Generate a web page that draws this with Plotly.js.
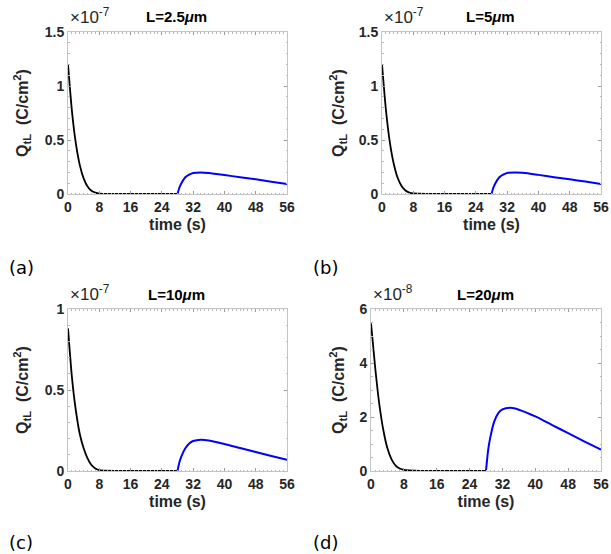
<!DOCTYPE html>
<html>
<head>
<meta charset="utf-8">
<script src="https://cdn.plot.ly/plotly-3.0.1.min.js"></script>
<style>html,body{margin:0;padding:0;background:#fff;}#chart{width:611px;height:554px;}</style>
</head>
<body>
<div id="chart"></div>
<script>
// ---- data (values in units of the panel's exponent) ----
var tDecay = [0, 1, 2, 3, 4, 5, 6, 7, 8, 12, 20, 28];
var tRise  = [28, 28.5, 29, 30, 31, 32, 34, 36, 40, 44, 48, 52, 56];

var decayA = [1.20, 0.77, 0.47, 0.27, 0.145, 0.07, 0.03, 0.012, 0.004, 0.001, 0, 0];
var riseA  = [0, 0.06, 0.10, 0.155, 0.18, 0.195, 0.20, 0.195, 0.176, 0.155, 0.136, 0.114, 0.093];

var decayB = [1.20, 0.78, 0.48, 0.28, 0.15, 0.075, 0.033, 0.013, 0.005, 0.001, 0, 0];
var riseB  = [0, 0.06, 0.10, 0.155, 0.18, 0.195, 0.20, 0.196, 0.177, 0.156, 0.136, 0.115, 0.093];

var decayC = [0.88, 0.58, 0.375, 0.23, 0.14, 0.078, 0.037, 0.016, 0.006, 0.001, 0, 0];
var riseC  = [0, 0.055, 0.09, 0.14, 0.17, 0.185, 0.193, 0.188, 0.167, 0.142, 0.117, 0.093, 0.07];

var decayD = [5.47, 3.86, 2.5, 1.52, 0.84, 0.43, 0.2, 0.09, 0.04, 0.005, 0, 0];
var riseD  = [0, 0.75, 1.21, 1.83, 2.14, 2.28, 2.34, 2.27, 2.02, 1.71, 1.40, 1.09, 0.79];

var panelTitles = ['L=2.5', 'L=5', 'L=10', 'L=20'];
var exponents = ['-7', '-7', '-7', '-8'];
var panelLabels = ['(a)', '(b)', '(c)', '(d)'];
var xTicks = [0, 8, 16, 24, 32, 40, 48, 56];
var yRanges = [[0, 1.5], [0, 1.5], [0, 1], [0, 6]];
var yDticks = [0.5, 0.5, 0.5, 2];
var yMinor = [0.1, 0.1, 0.1, 0.5];

// ---- layout geometry (pixels) ----
var W = 611, H = 554;
var boxes = [
  {l: 68, r: 287, t: 32, b: 194},
  {l: 382, r: 601, t: 32, b: 194},
  {l: 68, r: 287, t: 309, b: 471},
  {l: 371, r: 601, t: 309, b: 471}
];
var yTitleX = [22, 338, 22, 338];
var labelX = [7, 311, 7, 311];
var labelY = [267, 267, 542, 542];

var decays = [decayA, decayB, decayC, decayD];
var rises = [riseA, riseB, riseC, riseD];

var traces = [];
var FONT = 'Liberation Sans, Arial, sans-serif';
var layout = {
  width: W, height: H,
  margin: {l: 0, r: 0, t: 0, b: 0},
  paper_bgcolor: '#fff', plot_bgcolor: '#fff',
  showlegend: false,
  font: {family: FONT, color: '#262626'},
  annotations: []
};

function px(x) { return x / W; }
function py(y) { return 1 - y / H; }

for (var i = 0; i < 4; i++) {
  var n = i + 1;
  var xa = 'x' + (n === 1 ? '' : n), ya = 'y' + (n === 1 ? '' : n);
  var bx = boxes[i];
  traces.push({x: tDecay, y: decays[i], xaxis: xa, yaxis: ya, mode: 'lines',
    line: {color: '#000000', width: 1.8, shape: 'spline', smoothing: 0.6}, hoverinfo: 'skip'});
  traces.push({x: tRise, y: rises[i], xaxis: xa, yaxis: ya, mode: 'lines',
    line: {color: '#0000ff', width: 2, shape: 'spline', smoothing: 0.6}, hoverinfo: 'skip'});

  var common = {
    showline: true, linecolor: '#c4c4c4', linewidth: 1, mirror: 'allticks',
    ticks: 'inside', ticklen: 3, tickcolor: '#9a9a9a', tickwidth: 1,
    showgrid: false, zeroline: false,
    tickfont: {family: FONT, size: 14, color: '#262626', weight: 'bold'}
  };
  var xax = Object.assign({}, common, {
    domain: [px(bx.l), px(bx.r)],
    range: [0, 56], tickmode: 'array', tickvals: xTicks, ticktext: xTicks.map(String),
    minor: {ticks: 'inside', ticklen: 1.5, tickcolor: '#b8b8b8', dtick: 1, showgrid: false},
    title: {text: '<b>time (s)</b>', standoff: 5, font: {size: 16, color: '#262626', family: FONT}}
  });
  xax.anchor = ya;
  var yax = Object.assign({}, common, {
    domain: [py(bx.b), py(bx.t)], anchor: xa,
    range: yRanges[i], dtick: yDticks[i], tick0: 0,
    minor: {ticks: 'inside', ticklen: 1.5, tickcolor: '#b8b8b8', dtick: yMinor[i], showgrid: false}
  });
  layout['xaxis' + (n === 1 ? '' : n)] = xax;
  layout['yaxis' + (n === 1 ? '' : n)] = yax;

  var cx = (bx.l + bx.r) / 2;
  layout.annotations.push({
    xref: 'paper', yref: 'paper', x: px(cx - 1), y: py(bx.t - 15),
    xanchor: 'center', yanchor: 'middle', showarrow: false,
    text: '<b>' + panelTitles[i] + '<i>\u03bc</i>m</b>',
    font: {size: 15, color: '#000', family: FONT}
  });
  layout.annotations.push({
    xref: 'paper', yref: 'paper', x: px(bx.l), y: py(bx.t - 16),
    xanchor: 'left', yanchor: 'middle', showarrow: false,
    text: '\u00d710<sup>' + exponents[i] + '</sup>',
    font: {size: 17, color: '#262626', family: FONT}
  });
  layout.annotations.push({
    xref: 'paper', yref: 'paper', x: px(yTitleX[i]), y: py((bx.t + bx.b) / 2),
    xanchor: 'center', yanchor: 'middle', showarrow: false, textangle: -90,
    text: '<b>Q<sub>tL</sub>  (C/cm<sup>2</sup>)</b>',
    font: {size: 16, color: '#262626', family: FONT}
  });
  layout.annotations.push({
    xref: 'paper', yref: 'paper', x: px(labelX[i]), y: py(labelY[i]),
    xanchor: 'left', yanchor: 'middle', showarrow: false,
    text: panelLabels[i],
    font: {size: 18, color: '#000', family: 'DejaVu Sans, sans-serif'}
  });
}

Plotly.newPlot('chart', traces, layout, {staticPlot: true, displayModeBar: false});
</script>
</body>
</html>
